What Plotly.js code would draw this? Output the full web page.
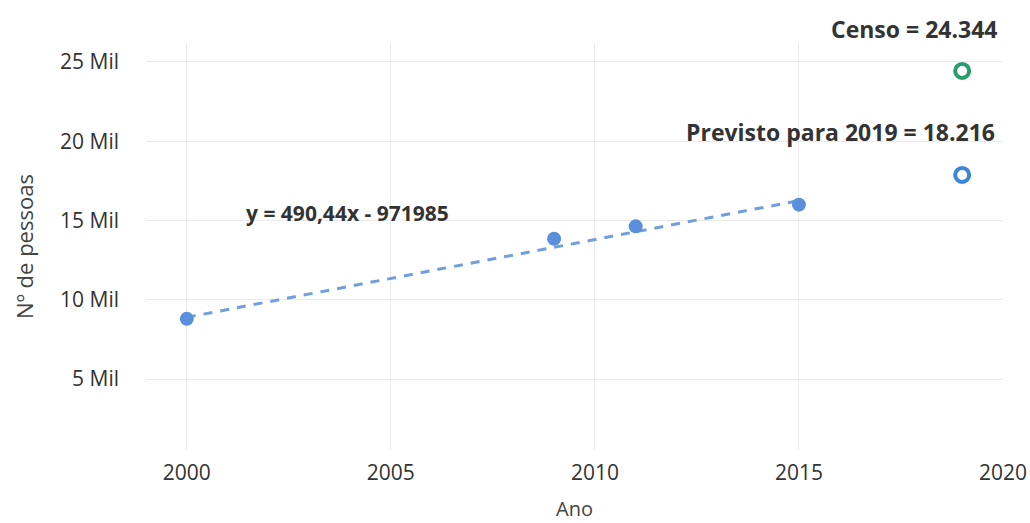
<!DOCTYPE html>
<html>
<head>
<meta charset="utf-8">
<script src="https://cdn.plot.ly/plotly-3.0.1.min.js"></script>
<style>html,body{margin:0;padding:0;background:#fff;}#chart{width:1030px;height:523px;}</style>
</head>
<body>
<div id="chart"></div>
<script>
// Observed data
const anos = [2000, 2009, 2011, 2015];
const pessoas = [8800, 13850, 14630, 16000];
// Trend line endpoints (y = 490,44x - 971985)
const tendAnos = [2000, 2015];
const tendValores = [8895, 16252];
// Forecast 2019
const previstoAno = [2019];
const previstoValor = [17870];
// Census 2019
const censoAno = [2019];
const censoValor = [24430];
// Tick labels
const yTickVals = [5000, 10000, 15000, 20000, 25000];
const yTickText = ['5 Mil', '10 Mil', '15 Mil', '20 Mil', '25 Mil'];
const xTickVals = [2000, 2005, 2010, 2015, 2020];

const font = 'Open Sans, Noto Sans, sans-serif';

const traces = [
  {x: tendAnos, y: tendValores, mode: 'lines', type: 'scatter',
   line: {color: '#6f9fdc', width: 3, dash: '9px,8px'}, hoverinfo: 'skip'},
  {x: anos, y: pessoas, mode: 'markers', type: 'scatter',
   marker: {color: '#5a8fdc', size: 14}},
  {x: previstoAno, y: previstoValor, mode: 'markers', type: 'scatter',
   marker: {symbol: 'circle-open', color: '#3d87d8', size: 14, line: {width: 4, color: '#3d87d8'}}},
  {x: censoAno, y: censoValor, mode: 'markers', type: 'scatter',
   marker: {symbol: 'circle-open', color: '#2a9d6c', size: 14, line: {width: 4, color: '#2a9d6c'}}}
];

const layout = {
  width: 1030, height: 523,
  margin: {l: 146, r: 27, t: 43, b: 73},
  paper_bgcolor: '#ffffff', plot_bgcolor: '#ffffff',
  showlegend: false,
  font: {family: font, color: '#333'},
  xaxis: {
    range: [1999, 2020], tickvals: xTickVals, ticktext: xTickVals.map(String),
    showgrid: true, gridcolor: '#ebebeb', gridwidth: 1, zeroline: false, showline: false,
    ticks: '', tickfont: {size: 21, color: '#333', family: font}, ticklabelstandoff: 8,
    title: {text: 'Ano', font: {size: 20, color: '#444', family: font}, standoff: 16}
  },
  yaxis: {
    range: [530, 26190], tickvals: yTickVals, ticktext: yTickText,
    showgrid: true, gridcolor: '#ebebeb', gridwidth: 1, zeroline: false, showline: false,
    ticks: '', tickfont: {size: 21, color: '#333', family: font}, ticklabelstandoff: 26,
    title: {text: 'Nº de pessoas', font: {size: 22, color: '#444', family: font}, standoff: 20}
  },
  annotations: [
    {xref: 'paper', yref: 'paper', x: 0.995, y: 1.0, yshift: 14, xanchor: 'right', yanchor: 'middle',
     text: '<b>Censo = 24.344</b>', showarrow: false, font: {size: 23, color: '#333', family: font}},
    {xref: 'x', yref: 'y', x: 2019.85, y: 20580, xanchor: 'right', yanchor: 'middle',
     text: '<b>Previsto para 2019 = 18.216</b>', showarrow: false, font: {size: 23, color: '#333', family: font}},
    {xref: 'x', yref: 'y', x: 2001.4, y: 15470, xanchor: 'left', yanchor: 'middle',
     text: '<b>y = 490,44x - 971985</b>', showarrow: false, font: {size: 21, color: '#333', family: font}}
  ]
};

Plotly.newPlot('chart', traces, layout, {displayModeBar: false, staticPlot: true});
</script>
</body>
</html>
